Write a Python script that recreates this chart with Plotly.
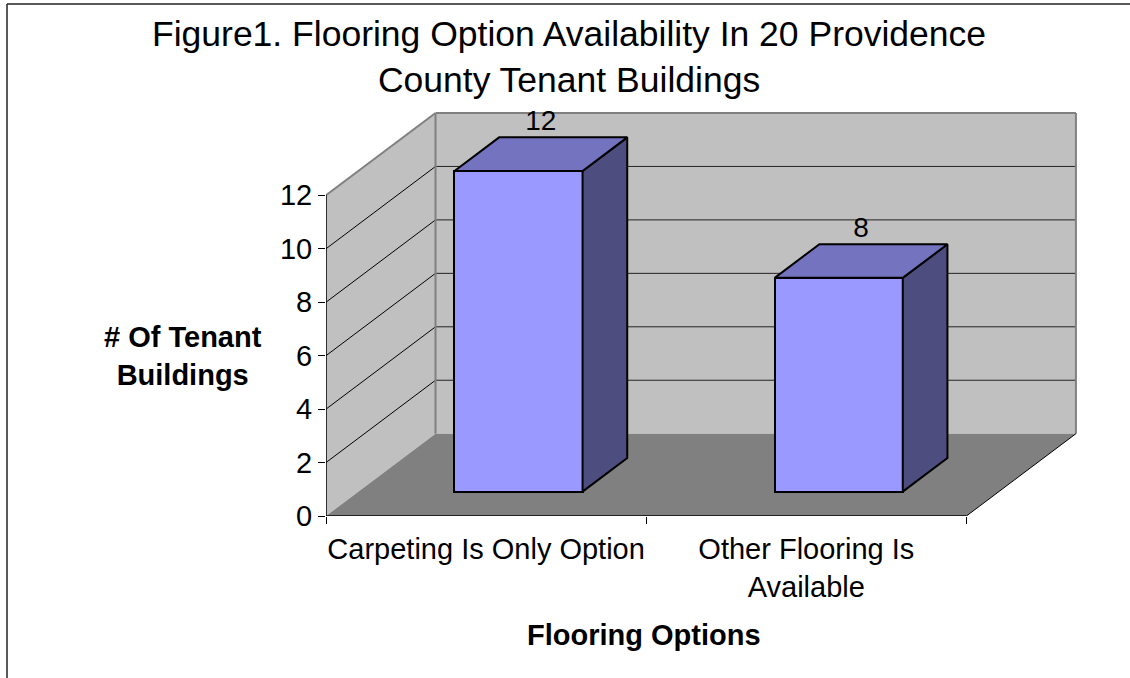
import plotly.graph_objects as go

# ---------------- data ----------------
categories = ["Carpeting Is Only Option", "Other Flooring Is<br>Available"]
values = [12, 8]
y_ticks = [0, 2, 4, 6, 8, 10, 12]
title_text = "Figure1. Flooring Option Availability In 20 Providence<br>County Tenant Buildings"
x_title = "Flooring Options"
y_title = "# Of Tenant<br>Buildings"

# ---------------- style / projection ----------------
DX, DY = 0.342, 3.08        # oblique depth offset (axis units)
F0, F1 = 0.296, 0.704       # depth span of the bars (fraction of depth)
BAR_W = 0.4
PADX, PADY = 0.0065, 0.075
YMAX = max(y_ticks)
n = len(categories)
FRONT, TOP, SIDE = "#9999FF", "#7373BF", "#4D4D80"
WALL, FLOOR, EDGE = "#C0C0C0", "#808080", "#808080"
FONT = "Liberation Sans, Arial, sans-serif"

L, R, T, B = 326, 52, 111, 162
W, H = 1130, 678
PW, PH = W - L - R, H - T - B


def px_to_paper_x(px):
    return (px - L) / PW


def px_to_paper_y(py):
    return (H - B - py) / PH


fig = go.Figure()

# front faces of the bars
fig.add_trace(go.Bar(
    x=[i + 0.5 + F0 * DX for i in range(n)], y=values, base=F0 * DY, width=BAR_W,
    marker=dict(color=FRONT, line=dict(color="black", width=2)),
    hoverinfo="skip", showlegend=False))

dd = (F1 - F0) * DX
for i, v in enumerate(values):
    xl = i + 0.5 - BAR_W / 2 + F0 * DX
    xr = xl + BAR_W
    # side face
    fig.add_trace(go.Scatter(
        x=[xr, xr + dd, xr + dd, xr, xr],
        y=[F0 * DY, F1 * DY, v + F1 * DY, v + F0 * DY, F0 * DY],
        fill="toself", fillcolor=SIDE, mode="lines",
        line=dict(color="black", width=2), hoverinfo="skip", showlegend=False))
    # top face
    fig.add_trace(go.Scatter(
        x=[xl, xr, xr + dd, xl + dd, xl],
        y=[v + F0 * DY, v + F0 * DY, v + F1 * DY, v + F1 * DY, v + F0 * DY],
        fill="toself", fillcolor=TOP, mode="lines",
        line=dict(color="black", width=2), hoverinfo="skip", showlegend=False))

# value labels
fig.add_trace(go.Scatter(
    x=[i + 0.5 + (F0 + F1) / 2 * DX for i in range(n)],
    y=[v + F1 * DY for v in values],
    text=[str(v) for v in values], mode="text", textposition="top center",
    textfont=dict(size=28, color="black", family=FONT),
    hoverinfo="skip", showlegend=False, cliponaxis=False))

# axis lines
fig.add_trace(go.Scatter(x=[0, 0], y=[0, YMAX], mode="lines",
                         line=dict(color="black", width=1.5),
                         hoverinfo="skip", showlegend=False, cliponaxis=False))
fig.add_trace(go.Scatter(x=[0, n], y=[0, 0], mode="lines",
                         line=dict(color="black", width=1.5),
                         hoverinfo="skip", showlegend=False, cliponaxis=False))

shapes = []
# walls and floor
shapes.append(dict(type="path", xref="x", yref="y", layer="below",
                   path=f"M {DX},{DY} L {n + DX},{DY} L {n + DX},{YMAX + DY} L {DX},{YMAX + DY} Z",
                   fillcolor=WALL, line=dict(width=0)))
shapes.append(dict(type="path", xref="x", yref="y", layer="below",
                   path=f"M 0,0 L {DX},{DY} L {DX},{YMAX + DY} L 0,{YMAX} Z",
                   fillcolor=WALL, line=dict(width=0)))
shapes.append(dict(type="path", xref="x", yref="y", layer="below",
                   path=f"M 0,0 L {n},0 L {n + DX},{DY} L {DX},{DY} Z",
                   fillcolor=FLOOR, line=dict(width=0)))
# gridlines
for v in y_ticks[1:-1]:
    shapes.append(dict(type="line", xref="x", yref="y", layer="below",
                       x0=0, y0=v, x1=DX, y1=v + DY, line=dict(color="black", width=1)))
    shapes.append(dict(type="line", xref="x", yref="y", layer="below",
                       x0=DX, y0=v + DY, x1=n + DX, y1=v + DY, line=dict(color="#222222", width=1)))
# wall edges
for (x0, y0, x1, y1) in [(DX, YMAX + DY, n + DX, YMAX + DY), (n + DX, DY, n + DX, YMAX + DY),
                         (DX, DY, DX, YMAX + DY), (0, YMAX, DX, YMAX + DY)]:
    shapes.append(dict(type="line", xref="x", yref="y", layer="below",
                       x0=x0, y0=y0, x1=x1, y1=y1, line=dict(color=EDGE, width=2)))
shapes.append(dict(type="line", xref="x", yref="y", layer="below",
                   x0=n, y0=0, x1=n + DX, y1=DY, line=dict(color="black", width=1)))
# outer frame (top and left)
shapes.append(dict(type="line", xref="paper", yref="paper",
                   x0=px_to_paper_x(7), y0=px_to_paper_y(4), x1=px_to_paper_x(W), y1=px_to_paper_y(4),
                   line=dict(color="#222222", width=1.5)))
shapes.append(dict(type="line", xref="paper", yref="paper",
                   x0=px_to_paper_x(7), y0=px_to_paper_y(4), x1=px_to_paper_x(7), y1=px_to_paper_y(H),
                   line=dict(color="#222222", width=1.5)))

annotations = [
    dict(text=title_text, xref="paper", yref="paper", x=px_to_paper_x(569), y=px_to_paper_y(57),
         xanchor="center", yanchor="middle", showarrow=False,
         font=dict(size=35.5, family=FONT, color="black")),
    dict(text=y_title, xref="paper", yref="paper", x=px_to_paper_x(183), y=px_to_paper_y(356),
         xanchor="center", yanchor="middle", showarrow=False,
         font=dict(size=29, family=FONT, color="black", weight="bold")),
    dict(text=x_title, xref="paper", yref="paper", x=px_to_paper_x(644), y=px_to_paper_y(635),
         xanchor="center", yanchor="middle", showarrow=False,
         font=dict(size=29, family=FONT, color="black", weight="bold")),
]

fig.update_layout(
    width=W, height=H, autosize=False,
    margin=dict(l=L, r=R, t=T, b=B),
    paper_bgcolor="white", plot_bgcolor="white",
    font=dict(family=FONT, color="black"),
    shapes=shapes, annotations=annotations, showlegend=False, bargap=0,
    xaxis=dict(range=[0, n + DX + PADX], showgrid=False, zeroline=False, showline=False,
               tickmode="array", tickvals=[i + 0.5 for i in range(n)], ticktext=categories,
               ticks="outside", ticklen=7, tickcolor="rgba(0,0,0,0)",
               tickfont=dict(size=29, family=FONT, color="black"),
               minor=dict(tickmode="array", tickvals=list(range(n + 1)), ticks="outside",
                          ticklen=7, tickcolor="black", tickwidth=1, showgrid=False),
               fixedrange=True),
    yaxis=dict(range=[0, YMAX + DY + PADY], showgrid=False, zeroline=False, showline=False,
               tickmode="array", tickvals=y_ticks, ticks="outside", ticklen=7,
               tickcolor="black", tickwidth=1,
               tickfont=dict(size=29, family=FONT, color="black"), fixedrange=True),
)

fig.write_html("out.html")
